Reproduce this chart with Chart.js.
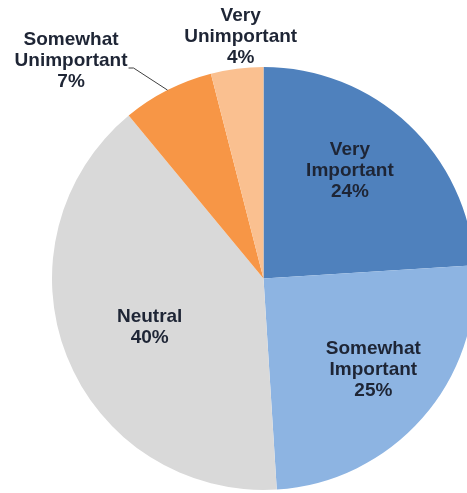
<!DOCTYPE html>
<html>
<head>
<meta charset="utf-8">
<script src="https://cdn.jsdelivr.net/npm/chart.js@4"></script>
<style>
  html, body { margin: 0; padding: 0; background: #fff; overflow: hidden; }
  #wrap { width: 467px; height: 493px; overflow: hidden; }
</style>
</head>
<body>
<div id="wrap"><canvas id="chart" width="527" height="493"></canvas></div>
<script>
// slices, clockwise from 12 o'clock
const categories = ['Very Important', 'Somewhat Important', 'Neutral', 'Somewhat Unimportant', 'Very Unimportant'];
const labelLines = [['Very', 'Important'], ['Somewhat', 'Important'], ['Neutral'], ['Somewhat', 'Unimportant'], ['Very', 'Unimportant']];
const shares = [24, 25, 40, 7, 4];
const sliceColors = ['#4f81bd', '#8db4e2', '#d9d9d9', '#f79646', '#fac090'];

// where each label sits: fraction of radius along the slice middle, plus an angle nudge (deg)
const labelPlace = [
    { r: 0.652, da: -4.4 },
    { r: 0.676, da: -1.6 },
    { r: 0.586, da: -1.7 },
    { r: 1.373, da: -14.5, leader: true },
    { r: 1.147, da: 1.8 }
];

const FONT = 'bold 19px "Liberation Sans", Arial, sans-serif';
const LINE_H = 21;

const sliceLabels = {
    id: 'sliceLabels',
    afterDatasetsDraw(chart) {
        const ctx = chart.ctx;
        const arcs = chart.getDatasetMeta(0).data;
        const total = shares.reduce((a, b) => a + b, 0);

        ctx.save();
        ctx.font = FONT;
        ctx.fillStyle = '#1e2535';
        ctx.textAlign = 'center';
        ctx.textBaseline = 'middle';

        arcs.forEach((arc, i) => {
            const { x, y, startAngle, endAngle, outerRadius } = arc.getProps(
                ['x', 'y', 'startAngle', 'endAngle', 'outerRadius'], true);
            const mid = (startAngle + endAngle) / 2;
            const p = labelPlace[i];
            const a = mid + p.da * Math.PI / 180;
            const cx = x + Math.cos(a) * outerRadius * p.r;
            const cy = y + Math.sin(a) * outerRadius * p.r;

            const lines = [...labelLines[i], Math.round(shares[i] / total * 100) + '%'];
            const top = cy - (lines.length - 1) * LINE_H / 2;
            lines.forEach((t, k) => ctx.fillText(t, cx, top + k * LINE_H));

            if (p.leader) {
                const w = ctx.measureText(lines[1]).width;
                const bx = cx + w / 2 + 1;
                const by = top + LINE_H + 7;
                ctx.strokeStyle = '#404040';
                ctx.lineWidth = 1;
                ctx.beginPath();
                ctx.moveTo(bx, by);
                ctx.lineTo(bx + 5, by);
                ctx.lineTo(x + Math.cos(mid) * outerRadius, y + Math.sin(mid) * outerRadius);
                ctx.stroke();
            }
        });
        ctx.restore();
    }
};

new Chart(document.getElementById('chart'), {
    type: 'pie',
    data: {
        labels: categories,
        datasets: [{
            data: shares,
            backgroundColor: sliceColors,
            borderWidth: 0
        }]
    },
    options: {
        responsive: false,
        animation: false,
        layout: { padding: { top: 67, bottom: 3, left: 52, right: 52 } },
        plugins: {
            legend: { display: false },
            tooltip: { enabled: false }
        }
    },
    plugins: [sliceLabels]
});
</script>
</body>
</html>
